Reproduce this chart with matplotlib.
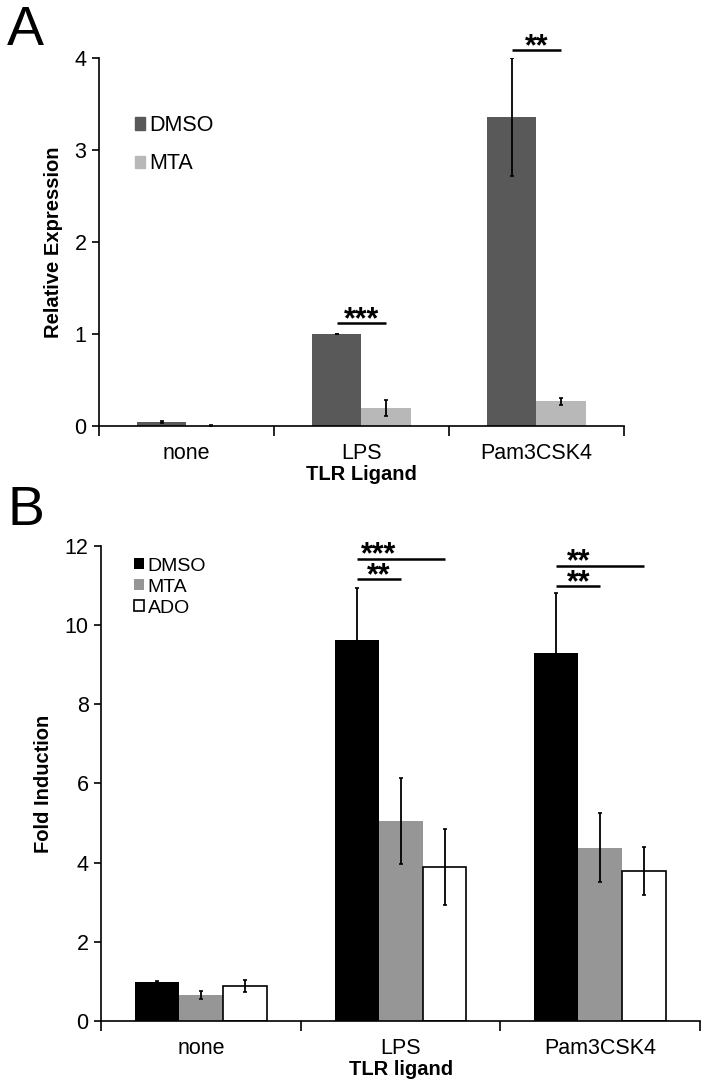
import numpy as np
import matplotlib
matplotlib.use("Agg")
import matplotlib.pyplot as plt
from matplotlib.patches import Patch

plt.rcParams['font.family'] = ['Liberation Sans', 'DejaVu Sans']

# ligands on the x axis
ligands = ['none', 'LPS', 'Pam3CSK4']

# panel A: relative expression
a_dmso = [0.04, 1.00, 3.36]
a_dmso_err = [0.01, 0.005, 0.645]
a_mta = [0.003, 0.196, 0.268]
a_mta_err = [0.004, 0.087, 0.036]

# panel B: fold induction
b_dmso = [0.99, 9.63, 9.30]
b_dmso_err = [0.02, 1.31, 1.50]
b_mta = [0.66, 5.05, 4.38]
b_mta_err = [0.10, 1.08, 0.87]
b_ado = [0.89, 3.90, 3.79]
b_ado_err = [0.15, 0.96, 0.61]

# significance marks: (group, label, height, to-series)
a_sig = [(1, '***', 1.12, 1), (2, '**', 4.09, 1)]
b_sig = [(1, '***', 11.68, 2), (1, '**', 11.17, 1),
         (2, '**', 11.49, 2), (2, '**', 11.00, 1)]


def style_axis(ax, ymax, ystep, xlabel, ylabel):
    ax.set_xlim(-0.5, 2.5)
    ax.set_ylim(0, ymax)
    ax.set_yticks(np.arange(0, ymax + 0.01, ystep))
    ax.set_xticks(range(len(ligands)))
    ax.set_xticklabels(ligands)
    ax.set_xticks([-0.5, 0.5, 1.5, 2.5], minor=True)
    ax.tick_params(axis='x', which='major', length=0, labelsize=15.5, pad=12)
    ax.tick_params(axis='x', which='minor', length=7, width=1.2, direction='out')
    ax.tick_params(axis='y', length=5, width=1.2, labelsize=15.5, pad=4)
    for s in ['top', 'right']:
        ax.spines[s].set_visible(False)
    for s in ['left', 'bottom']:
        ax.spines[s].set_linewidth(1.2)
    ax.set_xlabel(xlabel, fontsize=14.5, fontweight='bold', labelpad=1)
    ax.set_ylabel(ylabel, fontsize=14.5, fontweight='bold', labelpad=8)


def draw_sig(ax, offsets, sigs):
    # bracket lines
    for g, lab, h, to in sigs:
        ax.plot([g + offsets[0], g + offsets[to]], [h, h], color='black',
                lw=1.8, clip_on=False, solid_capstyle='butt')
    # stars, stacked per group in one text
    for g in sorted(set(s[0] for s in sigs)):
        rows = sorted([s for s in sigs if s[0] == g], key=lambda s: -s[2])
        txt = '\n'.join(r[1] for r in rows)
        xm = g + (offsets[0] + offsets[1]) / 2
        ax.annotate(txt, (xm, rows[-1][2]), xytext=(0, -9.1),
                    textcoords='offset points', ha='center', va='bottom',
                    multialignment='center', linespacing=0.6,
                    fontsize=22, fontweight='bold', annotation_clip=False)


fig = plt.figure(figsize=(7.09, 10.91), dpi=100)
axA = fig.add_axes([0.1396, 0.6095, 0.7405, 0.3373])
axB = fig.add_axes([0.1425, 0.0642, 0.845, 0.4354])

x = np.arange(len(ligands))
ekw = dict(ecolor='black', elinewidth=1.3, capsize=1.5, capthick=1.2)

# panel A
w = 0.285
offA = [-w / 2, w / 2]
axA.bar(x + offA[0], a_dmso, w, color='#595959', yerr=a_dmso_err, error_kw=ekw)
axA.bar(x + offA[1], a_mta, w, color='#b8b8b8', yerr=a_mta_err, error_kw=ekw)
style_axis(axA, 4, 1, 'TLR Ligand', 'Relative Expression')
draw_sig(axA, offA, a_sig)
axA.legend(handles=[Patch(color='#595959', label='DMSO'),
                    Patch(color='#b8b8b8', label='MTA')],
           loc='upper left', bbox_to_anchor=(0.068, 0.845), frameon=False,
           fontsize=15.5, handlelength=0.5, handleheight=0.5,
           handletextpad=0.2, labelspacing=0.8, borderpad=0, borderaxespad=0)

# panel B
wb = 0.22
offB = [-wb, 0, wb]
axB.bar(x + offB[0], b_dmso, wb, color='black', yerr=b_dmso_err, error_kw=ekw)
axB.bar(x + offB[1], b_mta, wb, color='#969696', yerr=b_mta_err, error_kw=ekw)
axB.bar(x + offB[2], b_ado, wb, color='white', edgecolor='black', linewidth=1.2,
        yerr=b_ado_err, error_kw=ekw)
style_axis(axB, 12, 2, 'TLR ligand', 'Fold Induction')
draw_sig(axB, offB, b_sig)
axB.legend(handles=[Patch(facecolor='black', label='DMSO'),
                    Patch(facecolor='#969696', label='MTA'),
                    Patch(facecolor='white', edgecolor='black', linewidth=1.2, label='ADO')],
           loc='upper left', bbox_to_anchor=(0.055, 0.975), frameon=False,
           fontsize=14, handlelength=0.5, handleheight=0.5,
           handletextpad=0.2, labelspacing=0.2, borderpad=0, borderaxespad=0)

# panel letters
fig.text(0.01, 0.995, 'A', fontsize=40, va='top', ha='left')
fig.text(0.01, 0.555, 'B', fontsize=40, va='top', ha='left')

fig.savefig('out.png', dpi=100)
